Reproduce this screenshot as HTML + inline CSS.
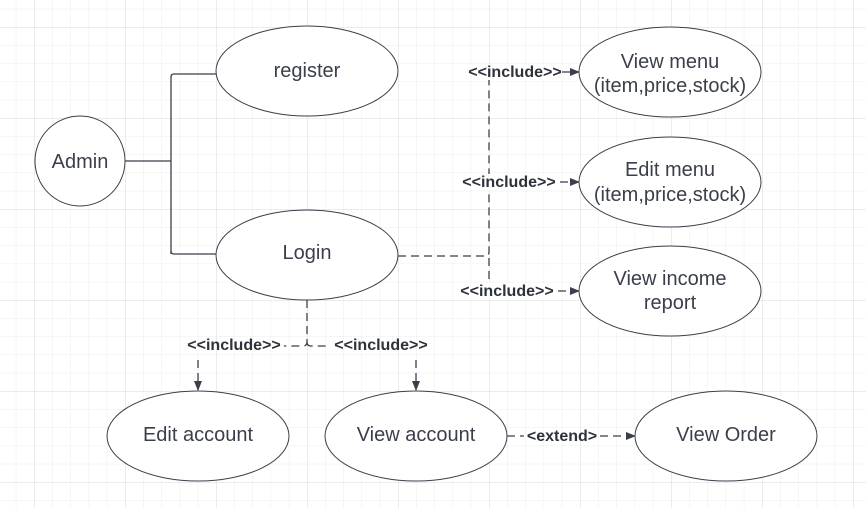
<!DOCTYPE html>
<html><head><meta charset="utf-8"><style>
html,body{margin:0;padding:0;background:#fff}
svg{display:block}
text{font-family:"Liberation Sans",Arial,sans-serif;fill:#3a3f4b}
.n{font-size:20px;text-anchor:middle}
.l{font-size:16px;font-weight:bold;text-anchor:middle;fill:#2e323b}
</style></head><body>
<svg width="866" height="508" viewBox="0 0 866 508" xmlns="http://www.w3.org/2000/svg">
<defs>
<pattern id="mi" x="34" y="27" width="18.2" height="18.2" patternUnits="userSpaceOnUse">
<path d="M0 0H18.2M0 0V18.2" stroke="#ececec" stroke-width="1" fill="none"/>
</pattern>
<pattern id="ma" x="34" y="27" width="91" height="91" patternUnits="userSpaceOnUse">
<path d="M0 0H91M0 0V91" stroke="#d9d9d9" stroke-width="1" fill="none"/>
</pattern>
<marker id="ar" markerWidth="10" markerHeight="10" refX="9" refY="5" orient="auto" markerUnits="userSpaceOnUse">
<path d="M0 1L10 5L0 9Z" fill="#3a3f4b"/>
</marker>
</defs>
<rect width="866" height="508" fill="url(#mi)"/>
<rect width="866" height="508" fill="url(#ma)"/>
<g stroke="#3a3f4b" stroke-width="1.3" fill="none">
<path d="M125 161H171"/>
<path d="M171 254V77Q171 74 174 74H216"/>
<path d="M171 251Q171 254 174 254H216"/>
<g stroke-dasharray="8,5">
<path d="M398 256H485Q489 256 489 252V76"/>
<path d="M489 258V291"/>
<path d="M562 72H579" marker-end="url(#ar)"/>
<path d="M560 182H579" marker-end="url(#ar)"/>
<path d="M558 291H579" marker-end="url(#ar)"/>
<path d="M307 300V342Q307 346 303 346H284"/>
<path d="M307 342Q307 346 311 346H330"/>
<path d="M198 360V390" marker-end="url(#ar)"/>
<path d="M416 360V390" marker-end="url(#ar)"/>
<path d="M507 436H524"/>
<path d="M600 436H635" marker-end="url(#ar)"/>
</g>
</g>
<g fill="#fff" stroke="#3a3f4b" stroke-width="1">
<circle cx="80" cy="161" r="45"/>
<ellipse cx="307" cy="71" rx="91" ry="45"/>
<ellipse cx="307" cy="255" rx="91" ry="45"/>
<ellipse cx="670" cy="72" rx="91" ry="45"/>
<ellipse cx="670" cy="182" rx="91" ry="45"/>
<ellipse cx="670" cy="291" rx="91" ry="45"/>
<ellipse cx="198" cy="436" rx="91" ry="45"/>
<ellipse cx="416" cy="436" rx="91" ry="45"/>
<ellipse cx="726" cy="436" rx="91" ry="45"/>
</g>
<text class="n" x="80" y="168">Admin</text>
<text class="n" x="307" y="77">register</text>
<text class="n" x="307" y="259">Login</text>
<text class="n" x="670" y="68">View menu</text>
<text class="n" x="670" y="92">(item,price,stock)</text>
<text class="n" x="670" y="176">Edit menu</text>
<text class="n" x="670" y="201">(item,price,stock)</text>
<text class="n" x="670" y="285">View income</text>
<text class="n" x="670" y="309">report</text>
<text class="n" x="198" y="441">Edit account</text>
<text class="n" x="416" y="441">View account</text>
<text class="n" x="726" y="441">View Order</text>
<g>
<rect x="468" y="64" width="94" height="16" fill="#fff"/>
<text class="l" x="515" y="77">&lt;&lt;include&gt;&gt;</text>
<rect x="460" y="174" width="98" height="16" fill="#fff"/>
<text class="l" x="509" y="187">&lt;&lt;include&gt;&gt;</text>
<rect x="458" y="283" width="98" height="16" fill="#fff"/>
<text class="l" x="507" y="296">&lt;&lt;include&gt;&gt;</text>
<text class="l" x="234" y="350">&lt;&lt;include&gt;&gt;</text>
<text class="l" x="381" y="350">&lt;&lt;include&gt;&gt;</text>
<text class="l" x="562" y="441">&lt;extend&gt;</text>
</g>
</svg>
</body></html>
